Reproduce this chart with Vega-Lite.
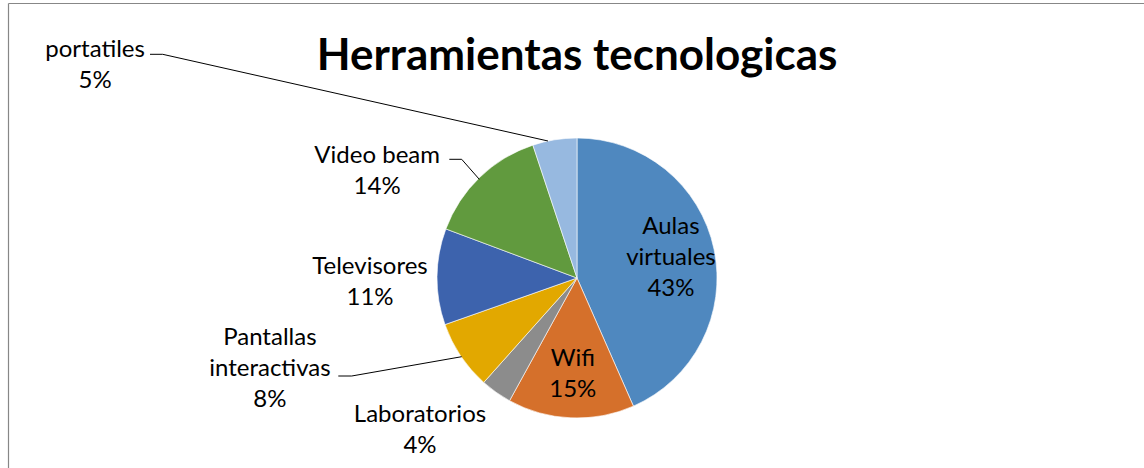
{
  "$schema": "https://vega.github.io/schema/vega-lite/v6.json",
  "autosize": "none",
  "width": 1134,
  "height": 380,
  "padding": {"left": 10, "top": 88, "right": 0, "bottom": 0},
  "background": "white",
  "config": {"view": {"stroke": null}},
  "data": {"values": [
    {"category": "Aulas virtuales", "value": 43.4},
    {"category": "Wifi", "value": 14.6},
    {"category": "Laboratorios", "value": 3.6},
    {"category": "Pantallas interactivas", "value": 8.0},
    {"category": "Televisores", "value": 11.1},
    {"category": "Video beam", "value": 14.2},
    {"category": "portatiles", "value": 5.1}
  ]},
  "transform": [
    {"window": [{"op": "row_number", "as": "idx"}]},
    {"stack": "value", "groupby": [], "sort": [{"field": "idx", "order": "ascending"}], "as": ["v0", "v1"]},
    {"calculate": "(datum.v0 + datum.v1) / 2", "as": "mid"},
    {"calculate": "format(datum.value, '.0f') + '%'", "as": "pct"},
    {"calculate": "(datum.category == 'Video beam' ? datum.category : replace(datum.category, ' ', '\\n')) + '\\n' + datum.pct", "as": "label"}
  ],
  "layer": [
    {
      "mark": {"type": "arc", "radius": 140, "stroke": "#ffffff", "strokeWidth": 0.6},
      "encoding": {
        "theta": {"field": "v0", "type": "quantitative", "scale": {"domain": [0, 100]}},
        "theta2": {"field": "v1"},
        "color": {
          "field": "category", "type": "nominal", "legend": null,
          "scale": {
            "domain": ["Aulas virtuales", "Wifi", "Laboratorios", "Pantallas interactivas", "Televisores", "Video beam", "portatiles"],
            "range": ["#4F88BF", "#D5702B", "#8C8C8C", "#E2A800", "#3D63AD", "#619A3E", "#97B9E0"]
          }
        }
      }
    },
    {
      "transform": [{"filter": "datum.category == 'Aulas virtuales'"}],
      "mark": {"type": "text", "radius": 96, "dy": -31, "font": "Lato", "fontSize": 24, "lineHeight": 31, "lineBreak": "\n", "color": "#000000", "align": "center", "baseline": "middle"},
      "encoding": {
        "theta": {"field": "mid", "type": "quantitative", "scale": {"domain": [0, 100]}},
        "text": {"field": "label"}
      }
    },
    {
      "transform": [{"filter": "datum.category == 'Wifi'"}],
      "mark": {"type": "text", "radius": 96, "dy": -15, "font": "Lato", "fontSize": 24, "lineHeight": 31, "lineBreak": "\n", "color": "#000000", "align": "center", "baseline": "middle"},
      "encoding": {
        "theta": {"field": "mid", "type": "quantitative", "scale": {"domain": [0, 100]}},
        "text": {"field": "label"}
      }
    },
    {
      "transform": [{"filter": "datum.category == 'Laboratorios'"}],
      "mark": {"type": "text", "radius": 187, "dx": -49, "dy": -16, "font": "Lato", "fontSize": 24, "lineHeight": 31, "lineBreak": "\n", "color": "#000000", "align": "center", "baseline": "middle"},
      "encoding": {
        "theta": {"field": "mid", "type": "quantitative", "scale": {"domain": [0, 100]}},
        "text": {"field": "label"}
      }
    },
    {
      "transform": [{"filter": "datum.category == 'Televisores'"}],
      "mark": {"type": "text", "radius": 207, "dy": -9, "font": "Lato", "fontSize": 24, "lineHeight": 31, "lineBreak": "\n", "color": "#000000", "align": "center", "baseline": "middle"},
      "encoding": {
        "theta": {"field": "mid", "type": "quantitative", "scale": {"domain": [0, 100]}},
        "text": {"field": "label"}
      }
    },
    {
      "transform": [{"filter": "datum.category == 'Video beam'"}],
      "mark": {"type": "text", "radius": 180, "dx": -75, "dy": 8, "font": "Lato", "fontSize": 24, "lineHeight": 31, "lineBreak": "\n", "color": "#000000", "align": "center", "baseline": "middle"},
      "encoding": {
        "theta": {"field": "mid", "type": "quantitative", "scale": {"domain": [0, 100]}},
        "text": {"field": "label"}
      }
    },
    {
      "transform": [{"filter": "datum.category == 'Pantallas interactivas'"}],
      "mark": {"type": "text", "radius": 200, "dx": -141, "dy": -51, "font": "Lato", "fontSize": 24, "lineHeight": 31, "lineBreak": "\n", "color": "#000000", "align": "center", "baseline": "middle"},
      "encoding": {
        "theta": {"field": "mid", "type": "quantitative", "scale": {"domain": [0, 100]}},
        "text": {"field": "label"}
      }
    },
    {
      "transform": [{"filter": "datum.category == 'portatiles'"}],
      "mark": {"type": "text", "radius": 200, "dx": -450, "dy": -31, "font": "Lato", "fontSize": 24, "lineHeight": 31, "lineBreak": "\n", "color": "#000000", "align": "center", "baseline": "middle"},
      "encoding": {
        "theta": {"field": "mid", "type": "quantitative", "scale": {"domain": [0, 100]}},
        "text": {"field": "label"}
      }
    },
    {
      "data": {"values": [{"title": "Herramientas tecnologicas"}]},
      "mark": {"type": "text", "font": "Lato", "fontSize": 44, "fontWeight": "bold", "color": "#000000", "align": "center", "baseline": "alphabetic"},
      "encoding": {"text": {"field": "title"}, "x": {"value": 567}, "y": {"value": -18}}
    },
    {"data": {"values": [{}]}, "mark": {"type": "rule", "color": "#000000", "strokeWidth": 1}, "encoding": {"x": {"value": 140}, "y": {"value": -33.7}, "x2": {"value": 152.7}, "y2": {"value": -33.7}}},
    {"data": {"values": [{}]}, "mark": {"type": "rule", "color": "#000000", "strokeWidth": 1}, "encoding": {"x": {"value": 152.7}, "y": {"value": -33.7}, "x2": {"value": 538}, "y2": {"value": 53}}},
    {"data": {"values": [{}]}, "mark": {"type": "rule", "color": "#000000", "strokeWidth": 1}, "encoding": {"x": {"value": 439.3}, "y": {"value": 71.3}, "x2": {"value": 451.7}, "y2": {"value": 71.3}}},
    {"data": {"values": [{}]}, "mark": {"type": "rule", "color": "#000000", "strokeWidth": 1}, "encoding": {"x": {"value": 451.7}, "y": {"value": 71.3}, "x2": {"value": 469.3}, "y2": {"value": 91.3}}},
    {"data": {"values": [{}]}, "mark": {"type": "rule", "color": "#000000", "strokeWidth": 1}, "encoding": {"x": {"value": 328.3}, "y": {"value": 288}, "x2": {"value": 341.7}, "y2": {"value": 288}}},
    {"data": {"values": [{}]}, "mark": {"type": "rule", "color": "#000000", "strokeWidth": 1}, "encoding": {"x": {"value": 341.7}, "y": {"value": 288}, "x2": {"value": 451.7}, "y2": {"value": 268.7}}},
    {"data": {"values": [{}]}, "mark": {"type": "rule", "color": "#878787", "strokeWidth": 1.2}, "encoding": {"x": {"value": -1.5}, "y": {"value": -84.5}, "x2": {"value": 1140}, "y2": {"value": -84.5}}},
    {"data": {"values": [{}]}, "mark": {"type": "rule", "color": "#878787", "strokeWidth": 1.2}, "encoding": {"x": {"value": -1.5}, "y": {"value": -84.5}, "x2": {"value": -1.5}, "y2": {"value": 385}}}
  ]
}
